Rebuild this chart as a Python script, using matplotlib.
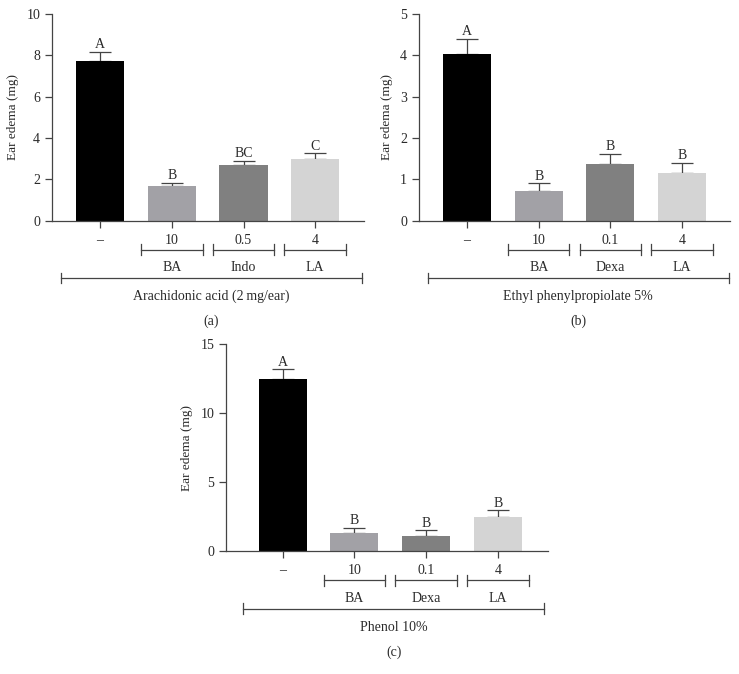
import numpy as np
import matplotlib
matplotlib.use('Agg')
from matplotlib import pyplot as plt
import matplotlib.transforms as mtransforms

plt.rcParams['font.family'] = ['Liberation Serif', 'DejaVu Serif']
plt.rcParams['font.size'] = 9.5

#---- data

doses_a = ['\u2013', '10', '0.5', '4']
doses_bc = ['\u2013', '10', '0.1', '4']
drugs_a = ['BA', 'Indo', 'LA']
drugs_bc = ['BA', 'Dexa', 'LA']
letters_a = ['A', 'B', 'BC', 'C']
letters_b = ['A', 'B', 'B', 'B']
letters_c = ['A', 'B', 'B', 'B']

vals_a = [7.70, 1.66, 2.68, 2.96]
err_a = [0.47, 0.18, 0.22, 0.29]
vals_b = [4.02, 0.71, 1.38, 1.14]
err_b = [0.37, 0.19, 0.23, 0.25]
vals_c = [12.46, 1.28, 1.11, 2.49]
err_c = [0.73, 0.39, 0.39, 0.46]

colors = ['#000000', '#a2a1a6', '#808080', '#d4d4d4']
line_col = '#444444'
text_col = '#2a2a2a'


#---- one panel

def plot_panel(ax, vals, errs, letters, doses, drugs, yticks, xlim,
               inducer, tag):
    x = np.arange(len(vals))
    ax.bar(x, vals, width=0.67, color=colors, zorder=2)
    ax.errorbar(x, vals, yerr=[np.zeros(len(errs)), errs], fmt='none',
                ecolor=line_col, elinewidth=0.9, capsize=8, capthick=0.9,
                zorder=1)
    for xi, v, e, l in zip(x, vals, errs, letters):
        ax.annotate(l, (xi, v + e), xytext=(0, 0.5), textcoords='offset points',
                    ha='center', va='bottom', fontsize=10, color=text_col)

    ax.set_xlim(*xlim)
    ax.set_ylim(0, yticks[-1])
    ax.set_yticks(yticks)
    ax.set_xticks(x)
    ax.set_xticklabels(doses)
    ax.set_ylabel('Ear edema (mg)', color=text_col, labelpad=5, fontsize=9.5)

    for s in ['top', 'right']:
        ax.spines[s].set_visible(False)
    for s in ['left', 'bottom']:
        ax.spines[s].set_color(line_col)
        ax.spines[s].set_linewidth(0.9)
    ax.tick_params(axis='both', length=5, width=0.9, color=line_col,
                   labelcolor=text_col, labelsize=10)
    ax.tick_params(axis='x', pad=4.5)

    #-- brackets below the axis (x in data, y in axes fraction)
    tr = mtransforms.blended_transform_factory(ax.transData, ax.transAxes)
    yb, ym = -0.141, -0.279
    dt = 0.026
    for xi, d in zip(x[1:], drugs):
        ax.plot([xi - 0.43, xi + 0.43], [yb, yb], color=line_col, lw=0.9,
                transform=tr, clip_on=False)
        for xe in (xi - 0.43, xi + 0.43):
            ax.plot([xe, xe], [yb - dt, yb + dt], color=line_col, lw=0.9,
                    transform=tr, clip_on=False)
        ax.text(xi, -0.228, d, transform=tr, ha='center', va='center',
                fontsize=10, color=text_col)

    ax.plot([-0.55, 3.65], [ym, ym], color=line_col, lw=0.9,
            transform=tr, clip_on=False)
    for xe in (-0.55, 3.65):
        ax.plot([xe, xe], [ym - dt, ym + dt], color=line_col, lw=0.9,
                transform=tr, clip_on=False)
    ax.text(1.55, -0.369, inducer, transform=tr, ha='center', va='center',
            fontsize=10, color=text_col)
    ax.text(1.55, -0.49, tag, transform=tr, ha='center', va='center',
            fontsize=10, color=text_col)
    return ax


#---- Script

if __name__ == '__main__':

    fig = plt.figure(figsize=(7.39, 6.74), dpi=100)

    ax_a = fig.add_axes([52 / 739, 1 - 220.5 / 674, 312 / 739, 206.5 / 674])
    ax_b = fig.add_axes([419 / 739, 1 - 220.5 / 674, 311 / 739, 206.5 / 674])
    ax_c = fig.add_axes([226 / 739, 1 - 551 / 674, 322 / 739, 206.7 / 674])

    plot_panel(ax_a, vals_a, err_a, letters_a, doses_a, drugs_a,
               [0, 2, 4, 6, 8, 10], (-0.67, 3.68),
               'Arachidonic acid (2\u2009mg/ear)', '(a)')
    plot_panel(ax_b, vals_b, err_b, letters_b, doses_bc, drugs_bc,
               [0, 1, 2, 3, 4, 5], (-0.67, 3.67),
               'Ethyl phenylpropiolate 5%', '(b)')
    plot_panel(ax_c, vals_c, err_c, letters_c, doses_bc, drugs_bc,
               [0, 5, 10, 15], (-0.79, 3.70),
               'Phenol 10%', '(c)')

    fig.savefig('out.png', dpi=100)
